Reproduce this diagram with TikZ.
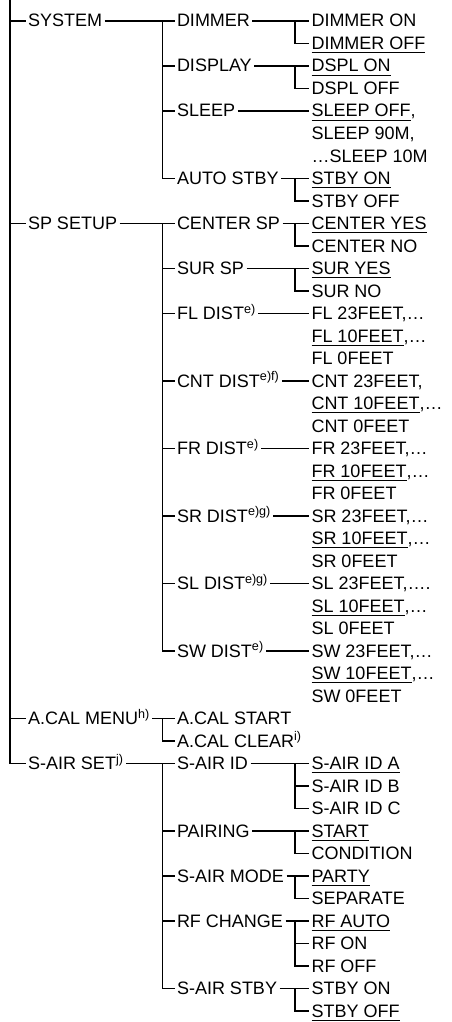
\documentclass[tikz,border=0pt]{standalone}
\usepackage{fontspec}
\setmainfont{Liberation Sans}
\usepackage{tikz}
\usetikzlibrary{positioning}
\newcommand{\dflt}[1]{\setbox0=\hbox{#1}\rlap{\rule[-3.8pt]{\wd0}{1pt}}\box0}

\begin{document}
\begin{tikzpicture}[x=1pt, y=1pt, line width=1.8pt,
  every node/.style={font=\fontsize{18}{22}\selectfont, inner xsep=2.5pt, inner ysep=0pt, outer sep=0pt, text height=13pt, text depth=1pt, minimum height=22.5pt},
  item/.style={anchor=west},
  leaf/.style={below=0pt of #1.south west, anchor=north west}]
  \useasboundingbox (0,0) rectangle (451,-1022);
  \coordinate (top) at (10,0);
  \coordinate (col1) at (25.5,0);
  \coordinate (col2) at (174.5,0);

  % settings column
  \node[item] (dimon) at (309,-21) {DIMMER ON};
  \node[leaf=dimon] (dimoff) {\dflt{DIMMER OFF}};
  \node[leaf=dimoff] (dsplon) {\dflt{DSPL ON}};
  \node[leaf=dsplon] (dsploff) {DSPL OFF};
  \node[leaf=dsploff] (sleepoff) {\dflt{SLEEP OFF},};
  \node[leaf=sleepoff] (sleep90) {SLEEP 90M,};
  \node[leaf=sleep90] (sleep10) {…SLEEP 10M};
  \node[leaf=sleep10] (stbyon) {\dflt{STBY ON}};
  \node[leaf=stbyon] (stbyoff) {STBY OFF};
  \node[leaf=stbyoff] (centeryes) {\dflt{CENTER YES}};
  \node[leaf=centeryes] (centerno) {CENTER NO};
  \node[leaf=centerno] (suryes) {\dflt{SUR YES}};
  \node[leaf=suryes] (surno) {SUR NO};
  \node[leaf=surno] (fl23) {FL 23FEET,…};
  \node[leaf=fl23] (fl10) {\dflt{FL 10FEET},…};
  \node[leaf=fl10] (fl0) {FL 0FEET};
  \node[leaf=fl0] (cnt23) {CNT 23FEET,};
  \node[leaf=cnt23] (cnt10) {\dflt{CNT 10FEET},…};
  \node[leaf=cnt10] (cnt0) {CNT 0FEET};
  \node[leaf=cnt0] (fr23) {FR 23FEET,…};
  \node[leaf=fr23] (fr10) {\dflt{FR 10FEET},…};
  \node[leaf=fr10] (fr0) {FR 0FEET};
  \node[leaf=fr0] (sr23) {SR 23FEET,…};
  \node[leaf=sr23] (sr10) {\dflt{SR 10FEET},…};
  \node[leaf=sr10] (sr0) {SR 0FEET};
  \node[leaf=sr0] (sl23) {SL 23FEET,….};
  \node[leaf=sl23] (sl10) {\dflt{SL 10FEET},…};
  \node[leaf=sl10] (sl0) {SL 0FEET};
  \node[leaf=sl0] (sw23) {SW 23FEET,…};
  \node[leaf=sw23] (sw10) {\dflt{SW 10FEET},…};
  \node[leaf=sw10] (sw0) {SW 0FEET};
  \node[below=45pt of sw0.south west, anchor=north west] (sairida) {\dflt{S-AIR ID A}};
  \node[leaf=sairida] (sairidb) {S-AIR ID B};
  \node[leaf=sairidb] (sairidc) {S-AIR ID C};
  \node[leaf=sairidc] (start) {\dflt{START}};
  \node[leaf=start] (condition) {CONDITION};
  \node[leaf=condition] (party) {\dflt{PARTY}};
  \node[leaf=party] (separate) {SEPARATE};
  \node[leaf=separate] (rfauto) {\dflt{RF AUTO}};
  \node[leaf=rfauto] (rfon) {RF ON};
  \node[leaf=rfon] (rfoff) {RF OFF};
  \node[leaf=rfoff] (sstbyon) {STBY ON};
  \node[leaf=sstbyon] (sstbyoff) {\dflt{STBY OFF}};

  % menu items
  \node[item] (dimmer) at (dimon.west -| col2) {DIMMER};
  \node[item] (display) at (dsplon.west -| col2) {DISPLAY};
  \node[item] (sleep) at (sleepoff.west -| col2) {SLEEP};
  \node[item] (autostby) at (stbyon.west -| col2) {AUTO STBY};
  \node[item] (centersp) at (centeryes.west -| col2) {CENTER SP};
  \node[item] (sursp) at (suryes.west -| col2) {SUR SP};
  \node[item] (fldist) at (fl23.west -| col2) {FL DIST\textsuperscript{e)}};
  \node[item] (cntdist) at (cnt23.west -| col2) {CNT DIST\textsuperscript{e)f)}};
  \node[item] (frdist) at (fr23.west -| col2) {FR DIST\textsuperscript{e)}};
  \node[item] (srdist) at (sr23.west -| col2) {SR DIST\textsuperscript{e)g)}};
  \node[item] (sldist) at (sl23.west -| col2) {SL DIST\textsuperscript{e)g)}};
  \node[item] (swdist) at (sw23.west -| col2) {SW DIST\textsuperscript{e)}};
  \node[below=45pt of swdist.south west, anchor=north west] (acalstart) {A.CAL START};
  \node[leaf=acalstart] (acalclear) {A.CAL CLEAR\textsuperscript{i)}};
  \node[item] (sairid) at (sairida.west -| col2) {S-AIR ID};
  \node[item] (pairing) at (start.west -| col2) {PAIRING};
  \node[item] (sairmode) at (party.west -| col2) {S-AIR MODE};
  \node[item] (rfchange) at (rfauto.west -| col2) {RF CHANGE};
  \node[item] (sairstby) at (sstbyon.west -| col2) {S-AIR STBY};

  % top level
  \node[item] (system) at (dimmer.west -| col1) {SYSTEM};
  \node[item] (spsetup) at (centersp.west -| col1) {SP SETUP};
  \node[item] (acal) at (acalstart.west -| col1) {A.CAL MENU\textsuperscript{h)}};
  \node[item] (sair) at (sairid.west -| col1) {S-AIR SET\textsuperscript{j)}};

  % main line
  \draw (top) |- (system.west) (top) |- (spsetup.west) (top) |- (acal.west) (top) |- (sair.west);

  % top level to menu items
  \draw (system.east) -- (dimmer.west)
    ([xshift=-12pt]dimmer.west) |- (display.west)
    ([xshift=-12pt]dimmer.west) |- (sleep.west)
    ([xshift=-12pt]dimmer.west) |- (autostby.west);
  \draw (spsetup.east) -- (centersp.west)
    ([xshift=-12pt]centersp.west) |- (sursp.west)
    ([xshift=-12pt]centersp.west) |- (fldist.west)
    ([xshift=-12pt]centersp.west) |- (cntdist.west)
    ([xshift=-12pt]centersp.west) |- (frdist.west)
    ([xshift=-12pt]centersp.west) |- (srdist.west)
    ([xshift=-12pt]centersp.west) |- (sldist.west)
    ([xshift=-12pt]centersp.west) |- (swdist.west);
  \draw (acal.east) -- (acalstart.west)
    ([xshift=-12pt]acalstart.west) |- (acalclear.west);
  \draw (sair.east) -- (sairid.west)
    ([xshift=-12pt]sairid.west) |- (pairing.west)
    ([xshift=-12pt]sairid.west) |- (sairmode.west)
    ([xshift=-12pt]sairid.west) |- (rfchange.west)
    ([xshift=-12pt]sairid.west) |- (sairstby.west);

  % menu items to settings
  \draw (dimmer.east) -- (dimon.west) ([xshift=-14pt]dimon.west) |- (dimoff.west);
  \draw (display.east) -- (dsplon.west) ([xshift=-14pt]dsplon.west) |- (dsploff.west);
  \draw (sleep.east) -- (sleepoff.west);
  \draw (autostby.east) -- (stbyon.west) ([xshift=-14pt]stbyon.west) |- (stbyoff.west);
  \draw (centersp.east) -- (centeryes.west) ([xshift=-14pt]centeryes.west) |- (centerno.west);
  \draw (sursp.east) -- (suryes.west) ([xshift=-14pt]suryes.west) |- (surno.west);
  \draw (fldist.east) -- (fl23.west);
  \draw (cntdist.east) -- (cnt23.west);
  \draw (frdist.east) -- (fr23.west);
  \draw (srdist.east) -- (sr23.west);
  \draw (sldist.east) -- (sl23.west);
  \draw (swdist.east) -- (sw23.west);
  \draw (sairid.east) -- (sairida.west)
    ([xshift=-14pt]sairida.west) |- (sairidb.west)
    ([xshift=-14pt]sairida.west) |- (sairidc.west);
  \draw (pairing.east) -- (start.west) ([xshift=-14pt]start.west) |- (condition.west);
  \draw (sairmode.east) -- (party.west) ([xshift=-14pt]party.west) |- (separate.west);
  \draw (rfchange.east) -- (rfauto.west)
    ([xshift=-14pt]rfauto.west) |- (rfon.west)
    ([xshift=-14pt]rfauto.west) |- (rfoff.west);
  \draw (sairstby.east) -- (sstbyon.west) ([xshift=-14pt]sstbyon.west) |- (sstbyoff.west);
\end{tikzpicture}
\end{document}
